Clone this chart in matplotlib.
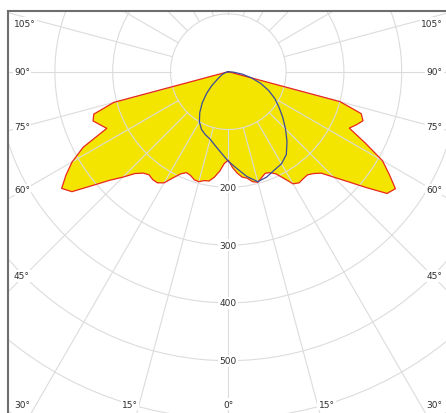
import numpy as np
import matplotlib

matplotlib.use("Agg")

import matplotlib.pyplot as plt
from matplotlib.patches import Circle, Polygon


# gamma angles (deg from nadir) and luminous intensity, C0 / C180 plane
gamma_c = [0, 2.5, 5, 7.5, 10, 12.5, 15, 17.5, 20, 22.5, 25, 27.5, 30,
           32.5, 35, 37.5, 40, 42.5, 45, 47.5, 50, 52.5, 55, 57.5, 60,
           62.5, 65, 67.5, 70, 72.5, 75, 77.5, 90]
c0 = [153, 166, 176, 184, 187, 195, 198, 192, 187, 189, 195, 208, 224,
      228, 226, 225, 230, 238, 258, 282, 312, 346, 353, 330, 308,
      267, 231, 240, 248, 241, 200, 0, 0]
c180 = [153, 159, 173, 184, 192, 193, 197, 196, 191, 189, 195, 207, 222,
        228, 228, 225, 229, 239, 258, 278, 306, 341, 352, 333, 312,
        283, 232, 240, 249, 244, 205, 0, 0]

# C90 / C270 plane
gamma_b = [0, 5, 10, 15, 20, 25, 30, 35, 40, 45, 50, 55, 60, 65, 70,
           75, 80, 85, 90]
c90 = [155, 168, 184, 197, 194, 188, 184, 175, 158, 140, 123, 107, 93,
       77, 60, 42, 25, 9, 0]
c270 = [155, 141, 130, 121, 116, 110, 100, 86, 70, 53, 37, 23, 16,
        12, 7, 3, 0, 0, 0]

rings = [100, 200, 300, 400, 500, 600, 700, 800]
ring_labels = [200, 300, 400, 500]
angle_labels = [0, 15, 30, 45, 60, 75, 90, 105]


def to_xy(gamma, vals, side):
    g = np.radians(gamma)
    v = np.asarray(vals, dtype=float)
    return side * v * np.sin(g), -v * np.cos(g)


def curve(gamma, left, right):
    xl, yl = to_xy(gamma, left, -1)
    xr, yr = to_xy(gamma, right, 1)
    x = np.concatenate([xl[::-1], xr])
    y = np.concatenate([yl[::-1], yr])
    return np.column_stack([x, y])


W, H = 446, 414
k = 0.578              # px per cd unit
cx, cy = 228.3, 72.7   # pole in px
x0, x1 = 8, 448.6
y0, y1 = 12, 430

fig = plt.figure(figsize=(W / 100, H / 100), dpi=100)
ax = fig.add_axes([x0 / W, (H - y1) / H, (x1 - x0) / W, (y1 - y0) / H])
ax.set_xlim((x0 - cx) / k, (x1 - cx) / k)
ax.set_ylim(-(y1 - cy) / k, (cy - y0) / k)
ax.set_xticks([])
ax.set_yticks([])
for side in ("right", "bottom"):
    ax.spines[side].set_visible(False)
for side in ("left", "top"):
    ax.spines[side].set_color("#6e6e6e")
    ax.spines[side].set_linewidth(1.5)

grid_kw = dict(color="#dcdcdc", lw=0.8, zorder=2)

# yellow C0-C180 fill
yellow = curve(gamma_c, c180, c0)
ax.add_patch(Polygon(yellow, closed=True, fc="#f3e500", ec="none", zorder=1))

# polar grid
for r in rings:
    ax.add_patch(Circle((0, 0), r, fill=False, ec="#dcdcdc", lw=0.8, zorder=2))
for a in range(0, 360, 15):
    ar = np.radians(a)
    ax.plot([100 * np.sin(ar), 1200 * np.sin(ar)],
            [-100 * np.cos(ar), -1200 * np.cos(ar)], **grid_kw)

# outlines
ax.plot(yellow[:, 0], yellow[:, 1], color="#e8261e", lw=0.9, zorder=4)
blue = curve(gamma_b, c270, c90)
ax.plot(blue[:, 0], blue[:, 1], color="#3b4b9c", lw=0.9, zorder=5)

box = dict(boxstyle="square,pad=0.15", fc="white", ec="none")
txt_kw = dict(fontsize=6.5, color="#2e2e2e", zorder=3, bbox=box)

for v in ring_labels:
    ax.text(0, -v, str(v), ha="center", va="center", **txt_kw)

# angle labels on the frame
side_x = 353
anchor_x = 370.8
bottom_hit = 635
bottom_y = -575
top_y = 84
for g in angle_labels:
    s, c = np.sin(np.radians(g)), np.cos(np.radians(g))
    for side in (-1, 1):
        if g == 0 and side == 1:
            continue
        tx = side_x / s if s > 1e-9 else np.inf
        ty = bottom_hit / c if c > 1e-9 else np.inf
        if ty < tx:
            ax.text(side * ty * s, bottom_y, f"{g}°", ha="center",
                    va="center", **txt_kw)
        else:
            y = float(np.clip(-tx * c, bottom_y, top_y))
            ha = "left" if side < 0 else "right"
            ax.text(side * anchor_x, y, f"{g}°", ha=ha, va="center", **txt_kw)

fig.savefig("out.png", dpi=100)
plt.close(fig)
